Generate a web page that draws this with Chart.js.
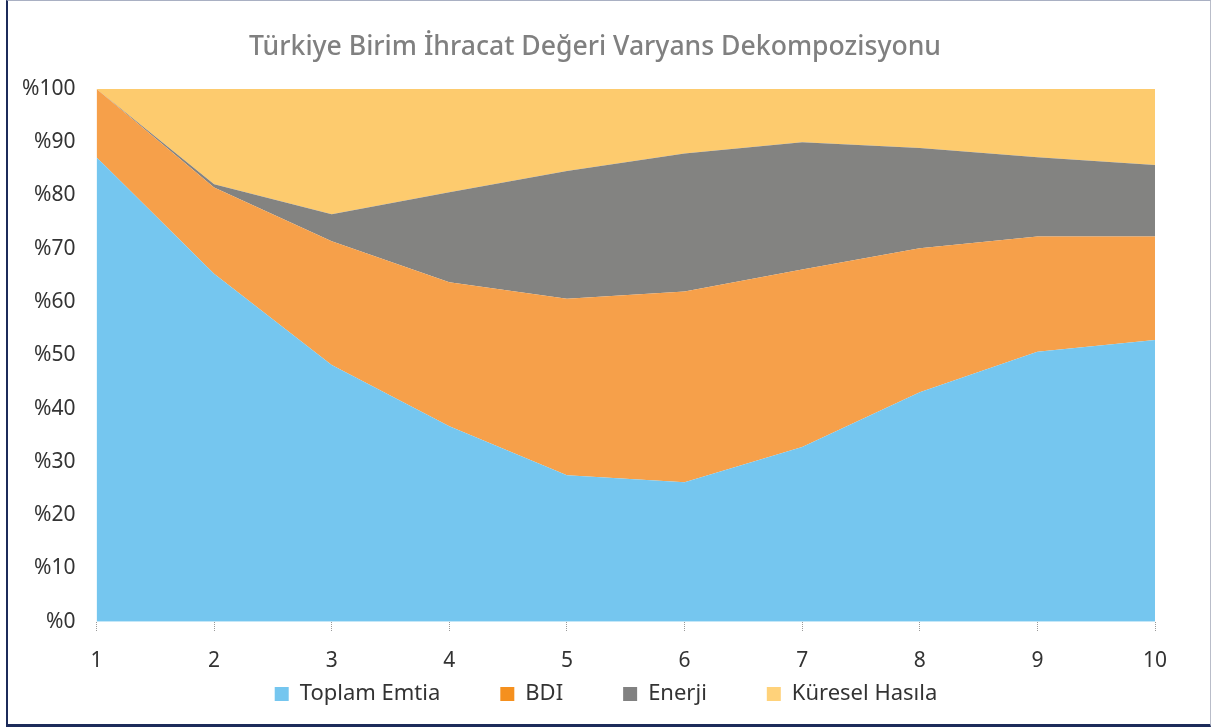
<!DOCTYPE html>
<html lang="tr">
<head>
<meta charset="utf-8">
<title>Türkiye Birim İhracat Değeri Varyans Dekompozisyonu</title>
<script src="https://cdn.jsdelivr.net/npm/chart.js@4.4.1/dist/chart.umd.min.js"></script>
<style>
    html, body { margin: 0; padding: 0; background: #fff; }
    .frame {
        position: absolute;
        left: 6px; top: 0;
        width: 1205px; height: 727px;
        box-sizing: border-box;
        border-top: 1px solid #a9b0c3;
        border-left: 2px solid #1c2b5a;
        border-right: 1px solid #b9bdc9;
        border-bottom: 3px solid #1c2b5a;
    }
    .chart-wrap { position: absolute; left: 0; top: 0; right: 0; bottom: 0; }
</style>
</head>
<body>
<div class="frame">
    <div class="chart-wrap"><canvas id="vdChart"></canvas></div>
</div>
<script>
// Ufuk (dönem) etiketleri
const periods = ['1', '2', '3', '4', '5', '6', '7', '8', '9', '10'];

// Varyans payları (%)
const toplamEmtia = [87.2, 65.3, 48.2, 36.7, 27.5, 26.2, 32.8, 43.1, 50.7, 52.9];
const bdi         = [12.8, 16.2, 23.2, 27.0, 33.1, 35.8, 33.3, 27.0, 21.6, 19.4];
const enerji      = [0.0, 0.6, 5.1, 16.9, 24.0, 25.9, 23.9, 18.8, 14.9, 13.4];
const kureselHasila = [0.0, 17.9, 23.5, 19.4, 15.4, 12.1, 10.0, 11.1, 12.8, 14.3];

const seriesNames = ['Toplam Emtia', 'BDI', 'Enerji', 'Küresel Hasıla'];
const areaColors = ['#75c6ef', '#f6a04a', '#838381', '#fdcb6e'];
const legendColors = ['#75c6ef', '#f5901e', '#818181', '#ffd27a'];

const yTicks = [0, 10, 20, 30, 40, 50, 60, 70, 80, 90, 100];

const fontFamily = '"Noto Sans", "DejaVu Sans", sans-serif';

// legend padding hem yatay aralığı hem yüksekliği büyütüyor, yüksekliği geri al
const LEGEND_PAD = 60;
const LEGEND_TRIM = LEGEND_PAD + 8;
const LEGEND_DX = 24;   // legend'i sağa kaydır
const TITLE_DX = 13;    // başlığı sağa kaydır

const layoutTweaks = {
    id: 'layoutTweaks',
    afterInit(chart) {
        const lg = chart.legend;
        if (lg) {
            const fit = lg.fit;
            lg.fit = function() {
                fit.call(this);
                this.height -= LEGEND_TRIM;
            };
            const draw = lg.draw;
            lg.draw = function() {
                this.top -= LEGEND_TRIM;
                this.ctx.save();
                this.ctx.translate(LEGEND_DX, 0);
                draw.apply(this, arguments);
                this.ctx.restore();
                this.top += LEGEND_TRIM;
            };
        }
        const tb = chart.titleBlock;
        if (tb) {
            const tdraw = tb.draw;
            tb.draw = function() {
                this.ctx.save();
                this.ctx.translate(TITLE_DX, 0);
                tdraw.apply(this, arguments);
                this.ctx.restore();
            };
        }
    }
};

function makeDataset(i, values) {
    return {
        label: seriesNames[i],
        data: values,
        backgroundColor: areaColors[i],
        borderColor: areaColors[i],
        borderWidth: 0,
        pointRadius: 0,
        pointHoverRadius: 0,
        tension: 0,
        fill: i === 0 ? 'origin' : '-1'
    };
}

const ctx = document.getElementById('vdChart').getContext('2d');
new Chart(ctx, {
    type: 'line',
    data: {
        labels: periods,
        datasets: [
            makeDataset(0, toplamEmtia),
            makeDataset(1, bdi),
            makeDataset(2, enerji),
            makeDataset(3, kureselHasila)
        ]
    },
    plugins: [layoutTweaks],
    options: {
        responsive: true,
        maintainAspectRatio: false,
        animation: false,
        layout: { padding: { left: 1, right: 55, top: 26, bottom: 9 } },
        plugins: {
            title: {
                display: true,
                text: 'Türkiye Birim İhracat Değeri Varyans Dekompozisyonu',
                color: '#808080',
                font: { family: fontFamily, size: 26.6, weight: '500' },
                padding: { top: 4, bottom: 26 }
            },
            legend: {
                position: 'bottom',
                labels: {
                    color: '#333',
                    font: { family: fontFamily, size: 22 },
                    boxWidth: 14,
                    boxHeight: 14,
                    padding: LEGEND_PAD,
                    generateLabels: function(chart) {
                        return chart.data.datasets.map((ds, i) => ({
                            text: ds.label,
                            fillStyle: legendColors[i],
                            strokeStyle: legendColors[i],
                            lineWidth: 0,
                            datasetIndex: i,
                            fontColor: '#333'
                        }));
                    }
                }
            },
            tooltip: { enabled: false }
        },
        scales: {
            x: {
                offset: false,
                border: { display: false },
                grid: {
                    display: true,
                    drawOnChartArea: false,
                    drawTicks: true,
                    tickLength: 10,
                    tickBorderDash: [1, 1],
                    tickColor: '#9a9a9a',
                    tickWidth: 1
                },
                ticks: {
                    color: '#333',
                    font: { family: fontFamily, size: 21 },
                    padding: 17,
                    maxRotation: 0
                }
            },
            y: {
                stacked: true,
                min: 0,
                max: 100,
                border: { display: false },
                grid: { display: false },
                afterBuildTicks: function(axis) {
                    axis.ticks = yTicks.map(v => ({ value: v }));
                },
                ticks: {
                    color: '#333',
                    font: { family: fontFamily, size: 21 },
                    padding: 13,
                    callback: v => '%' + v
                }
            }
        }
    }
});
</script>
</body>
</html>
